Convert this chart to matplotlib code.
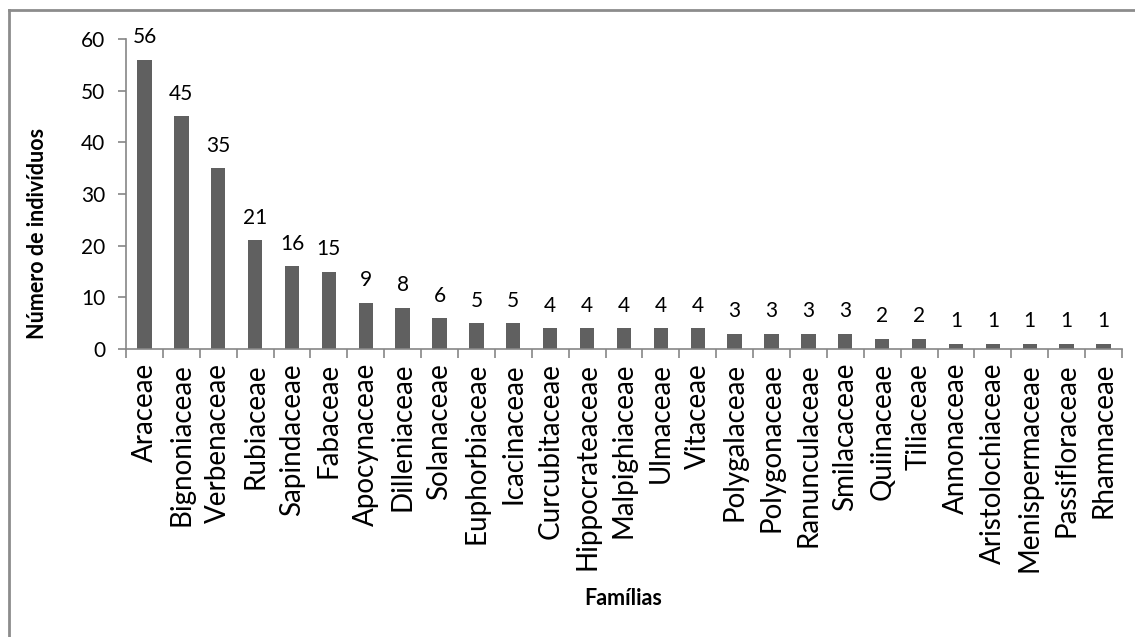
import matplotlib.pyplot as plt
from matplotlib.lines import Line2D

familias = ['Araceae', 'Bignoniaceae', 'Verbenaceae', 'Rubiaceae', 'Sapindaceae',
            'Fabaceae', 'Apocynaceae', 'Dilleniaceae', 'Solanaceae', 'Euphorbiaceae',
            'Icacinaceae', 'Curcubitaceae', 'Hippocrateaceae', 'Malpighiaceae',
            'Ulmaceae', 'Vitaceae', 'Polygalaceae', 'Polygonaceae', 'Ranunculaceae',
            'Smilacaceae', 'Quiinaceae', 'Tiliaceae', 'Annonaceae', 'Aristolochiaceae',
            'Menispermaceae', 'Passifloraceae', 'Rhamnaceae']
individuos = [56, 45, 35, 21, 16, 15, 9, 8, 6, 5, 5, 4, 4, 4, 4, 4, 3, 3, 3, 3,
              2, 2, 1, 1, 1, 1, 1]
y_ticks = [0, 10, 20, 30, 40, 50, 60]

plt.rcParams['font.family'] = ['Lato', 'DejaVu Sans']
axis_grey = '#868686'

fig = plt.figure(figsize=(11.35, 6.37), dpi=100)
ax = fig.add_axes([0.111, 0.452, 0.8775, 0.487])

x = range(len(familias))
ax.bar(x, individuos, width=0.39, color='#606060')
for xi, v in zip(x, individuos):
    ax.annotate(str(v), (xi, v), xytext=(0, 9), textcoords='offset points',
                ha='center', va='bottom', fontsize=15, color='black')

ax.set_xlim(-0.5, len(familias) - 0.5)
ax.set_ylim(0, 60)
ax.set_yticks(y_ticks)
# ticks between categories, labels at the bar centres
ax.set_xticks([i - 0.5 for i in range(len(familias) + 1)])
ax.set_xticklabels([''] * (len(familias) + 1))
ax.set_xticks(list(x), minor=True)
ax.set_xticklabels(familias, minor=True, rotation=90, fontsize=20)
ax.tick_params(axis='x', which='minor', length=0, pad=10)
ax.tick_params(axis='x', which='major', length=6.5, color=axis_grey, width=1.2)
ax.tick_params(axis='y', length=6, color=axis_grey, width=1.2, labelsize=15, pad=9)

for side in ['top', 'right']:
    ax.spines[side].set_visible(False)
for side in ['left', 'bottom']:
    ax.spines[side].set_color(axis_grey)
    ax.spines[side].set_linewidth(1.2)

ax.set_ylabel('Número de indivíduos', fontsize=15.5, fontweight='bold')
ax.yaxis.set_label_coords(-0.078, 0.374)
fig.text(0.549, 0.061, 'Famílias', ha='center', va='center', fontsize=15.5,
         fontweight='bold')

# chart frame, cut at right and bottom like the source
fig.add_artist(Line2D([0.0075, 0.0075], [0.0, 0.984], color='#8c8c8c', lw=2,
                      transform=fig.transFigure))
fig.add_artist(Line2D([0.0075, 1.0], [0.984, 0.984], color='#8c8c8c', lw=2,
                      transform=fig.transFigure))

fig.savefig('out.png', dpi=100)
